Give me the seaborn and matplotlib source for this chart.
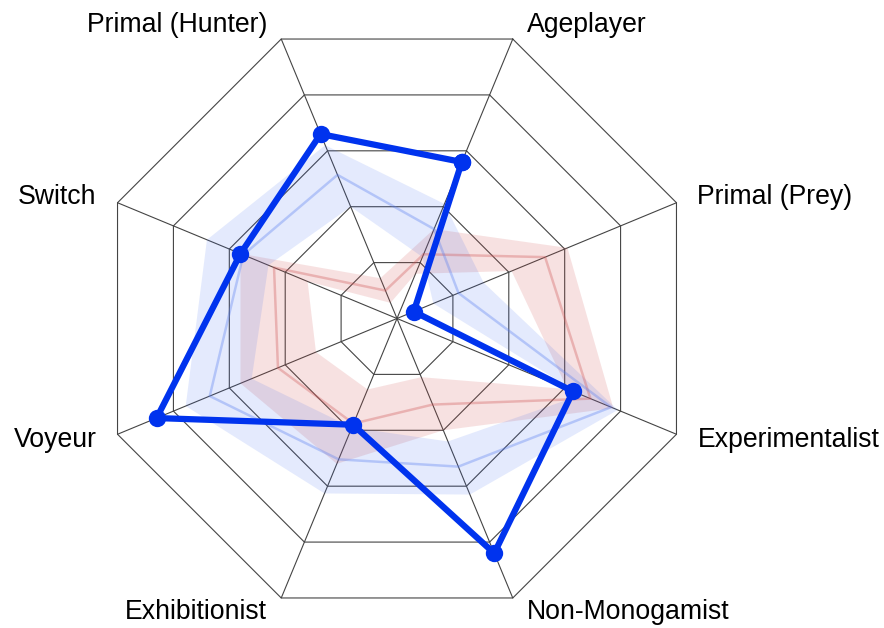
import numpy as np
import matplotlib.pyplot as plt
import seaborn as sns
from matplotlib.path import Path
from matplotlib.patches import PathPatch

# Data

categories = ["Ageplayer", "Primal (Prey)", "Experimentalist", "Non-Monogamist",
              "Exhibitionist", "Voyeur", "Switch", "Primal (Hunter)"]

# individual result (thick line)
user_scores = [2.8, 0.3, 3.15, 4.2, 1.9, 4.3, 2.8, 3.3]

# blue group: middle line and band
blue_mid = [1.6, 1.1, 3.83, 2.65, 2.52, 3.35, 2.75, 2.57]
blue_low = [1.1, 0.65, 3.3, 2.2, 1.95, 2.6, 2.3, 2.0]
blue_high = [2.05, 1.55, 3.95, 3.15, 3.13, 3.78, 3.4, 3.1]

# red group: middle line and band
red_mid = [1.15, 2.65, 3.46, 1.54, 1.88, 2.13, 2.2, 0.5]
red_low = [0.8, 2.05, 3.05, 1.05, 1.27, 1.45, 1.6, 0.28]
red_high = [1.6, 3.05, 3.87, 2.0, 2.6, 2.8, 2.8, 0.72]

ring_levels = [1, 2, 3, 4, 5]

# Geometry helpers

n = len(categories)
theta = np.deg2rad(22.5 + 45 * np.arange(n))   # clockwise from top


def to_xy(values, close=True):
    r = np.asarray(values, dtype=float)
    x = r * np.sin(theta)
    y = r * np.cos(theta)
    if close:
        x = np.append(x, x[0])
        y = np.append(y, y[0])
    return x, y


def band_patch(low, high, color, alpha):
    xh, yh = to_xy(high)
    xl, yl = to_xy(low)
    verts = list(zip(xh, yh)) + list(zip(xl[::-1], yl[::-1]))
    codes = ([Path.MOVETO] + [Path.LINETO] * (len(xh) - 2) + [Path.CLOSEPOLY]) * 2
    return PathPatch(Path(verts, codes), facecolor=color, edgecolor="none",
                     alpha=alpha, zorder=2)


# Figure

sns.set_theme(style="white")
plt.rcParams["font.family"] = ["Liberation Sans", "DejaVu Sans"]

fig = plt.figure(figsize=(8.84, 6.28), dpi=100)
ax = fig.add_axes([0, 0, 1, 1])
unit = 60.5  # pixels per score unit
ax.set_xlim(-397 / unit, (884 - 397) / unit)
ax.set_ylim(-(628 - 318.5) / unit, 318.5 / unit)
ax.axis("off")

# grid rings and spokes
for lev in ring_levels:
    gx, gy = to_xy([lev] * n)
    ax.plot(gx, gy, color="#444444", lw=0.8, zorder=1)
ox, oy = to_xy([ring_levels[-1]] * n, close=False)
for x0, y0 in zip(ox, oy):
    ax.plot([0, x0], [0, y0], color="#444444", lw=0.8, zorder=1)

# bands
ax.add_patch(band_patch(red_low, red_high, "#d04848", 0.16))
ax.add_patch(band_patch(blue_low, blue_high, "#3060f0", 0.13))

# middle lines
rx, ry = to_xy(red_mid)
sns.lineplot(x=rx, y=ry, sort=False, estimator=None, color="#d05a5a",
             alpha=0.35, lw=1.8, ax=ax, zorder=3)
bx, by = to_xy(blue_mid)
sns.lineplot(x=bx, y=by, sort=False, estimator=None, color="#5a7ff0",
             alpha=0.35, lw=1.8, ax=ax, zorder=3)

# individual result
ux, uy = to_xy(user_scores)
sns.lineplot(x=ux, y=uy, sort=False, estimator=None, color="#0033ee",
             lw=4.5, marker="o", markersize=12.5, markeredgewidth=0,
             ax=ax, zorder=4)

# labels
for name, x0, y0, t in zip(categories, ox, oy, theta):
    s, c = np.sin(t), np.cos(t)
    steep = abs(c) > 0.5
    dx = np.sign(s) * (14 if steep else 21)
    dy = np.sign(c) * (14 if steep else 5.5)
    ax.annotate(name, xy=(x0, y0), xytext=(dx, dy), textcoords="offset pixels",
                ha="left" if s > 0 else "right", va="center",
                fontsize=19.2, color="black")

fig.savefig("out.png", dpi=100)
